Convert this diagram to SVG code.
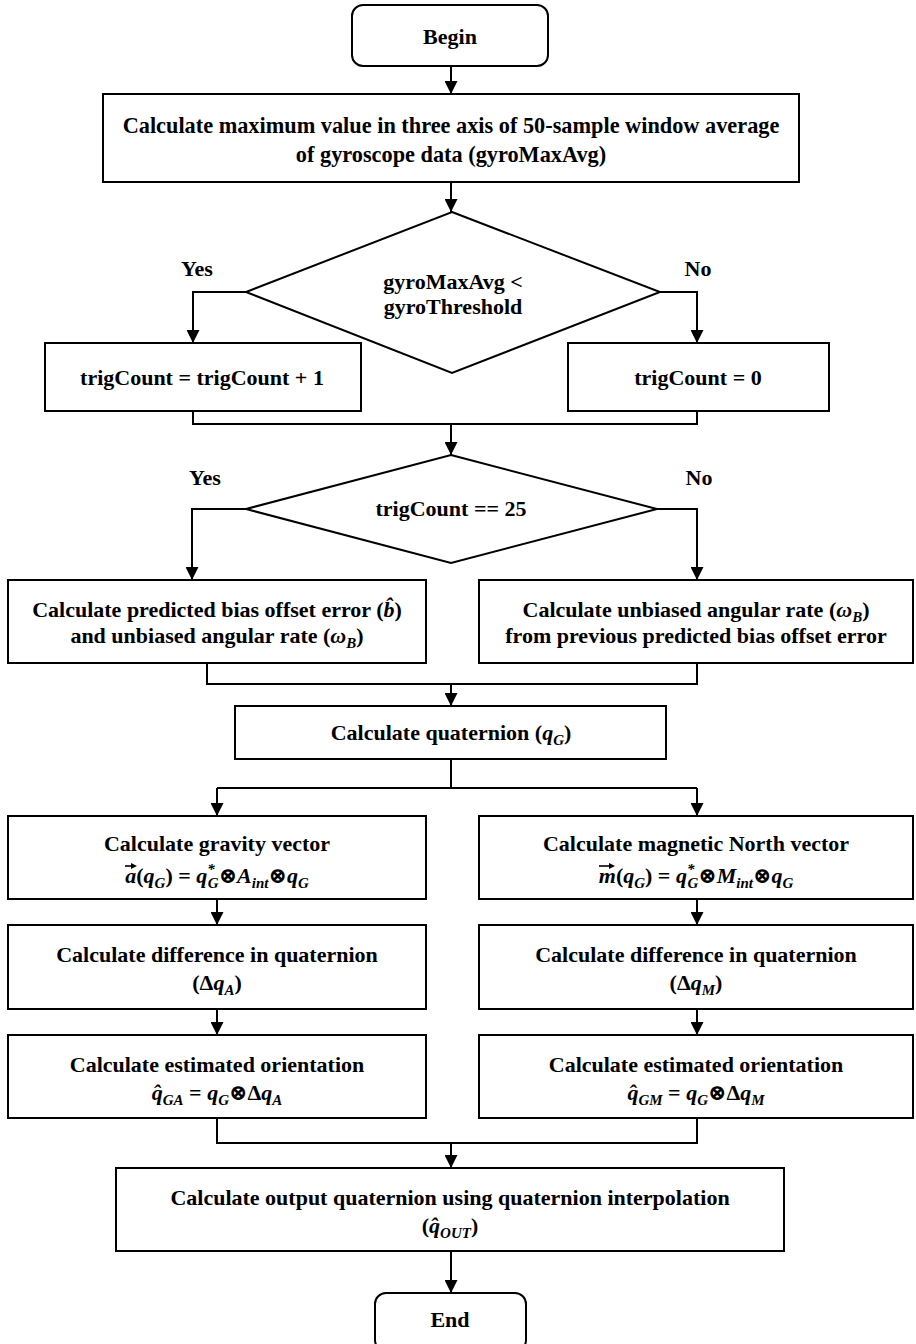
<svg xmlns="http://www.w3.org/2000/svg" width="916" height="1344" viewBox="0 0 916 1344">
<defs>
<style>
.box{fill:#fff;stroke:#000;stroke-width:2}
.ln{fill:none;stroke:#000;stroke-width:2}
.vec{fill:none;stroke:#000;stroke-width:1.6}
.t{font-family:"Liberation Serif","Times New Roman","DejaVu Serif",serif;font-weight:bold;font-size:22px;text-anchor:middle;fill:#000}
.m{font-style:italic}
.s{font-size:15px}
</style>
<marker id="ah" markerUnits="userSpaceOnUse" markerWidth="13" markerHeight="13" refX="13" refY="6.5" orient="auto">
<path d="M0,0 L13,6.5 L0,13 Z" fill="#000"/>
</marker>
</defs>
<rect width="916" height="1344" fill="#fff"/>

<g id="connectors">
<path class="ln" d="M451,66 V94" marker-end="url(#ah)"/>
<path class="ln" d="M451,182 V212" marker-end="url(#ah)"/>
<path class="ln" d="M246,292 H193 V343" marker-end="url(#ah)"/>
<path class="ln" d="M660,292 H697 V343" marker-end="url(#ah)"/>
<path class="ln" d="M193,411 V424 H697 V411"/>
<path class="ln" d="M451,424 V455" marker-end="url(#ah)"/>
<path class="ln" d="M246,509 H192 V580" marker-end="url(#ah)"/>
<path class="ln" d="M657,509 H697 V580" marker-end="url(#ah)"/>
<path class="ln" d="M207,663 V684 H697 V663"/>
<path class="ln" d="M451,684 V706" marker-end="url(#ah)"/>
<path class="ln" d="M451,759 V788"/>
<path class="ln" d="M217,788 H697"/>
<path class="ln" d="M217,788 V816" marker-end="url(#ah)"/>
<path class="ln" d="M697,788 V816" marker-end="url(#ah)"/>
<path class="ln" d="M217,899 V925" marker-end="url(#ah)"/>
<path class="ln" d="M697,899 V925" marker-end="url(#ah)"/>
<path class="ln" d="M217,1009 V1035" marker-end="url(#ah)"/>
<path class="ln" d="M697,1009 V1035" marker-end="url(#ah)"/>
<path class="ln" d="M217,1118 V1143 H697 V1118"/>
<path class="ln" d="M451,1143 V1168" marker-end="url(#ah)"/>
<path class="ln" d="M451,1251 V1293" marker-end="url(#ah)"/>
<text class="t" x="197" y="276">Yes</text>
<text class="t" x="698" y="276">No</text>
<text class="t" x="205" y="485">Yes</text>
<text class="t" x="699" y="485">No</text>
</g>

<g id="begin">
<rect class="box" x="352" y="5" width="196" height="61" rx="11"/>
<text class="t" x="450" y="44">Begin</text>
</g>

<g id="calc-max">
<rect class="box" x="103" y="94" width="696" height="88"/>
<text class="t" x="451" y="133" style="font-size:22.3px">Calculate maximum value in three axis of 50-sample window average</text>
<text class="t" x="451" y="162" style="font-size:22.3px">of gyroscope data (gyroMaxAvg)</text>
</g>

<g id="decision-gyro">
<polygon class="box" points="452,212 660,292 452,373 246,292"/>
<text class="t" x="453" y="289">gyroMaxAvg &lt;</text>
<text class="t" x="453" y="314">gyroThreshold</text>
</g>

<g id="trig-inc">
<rect class="box" x="45" y="343" width="316" height="68"/>
<text class="t" x="202" y="385">trigCount = trigCount + 1</text>
</g>

<g id="trig-zero">
<rect class="box" x="568" y="343" width="261" height="68"/>
<text class="t" x="698" y="385">trigCount = 0</text>
</g>

<g id="decision-trig">
<polygon class="box" points="451,455 657,509 451,563 246,509"/>
<text class="t" x="451" y="516">trigCount == 25</text>
</g>

<g id="predict-bias">
<rect class="box" x="8" y="580" width="418" height="83"/>
<text class="t" x="217" y="617">Calculate predicted bias offset error (<tspan class="m">b&#x302;</tspan>)</text>
<text class="t" x="217" y="643">and unbiased angular rate (<tspan class="m">ω</tspan><tspan class="m s" dy="5">B</tspan><tspan dy="-5">)</tspan></text>
</g>

<g id="unbiased-rate">
<rect class="box" x="479" y="580" width="434" height="83"/>
<text class="t" x="696" y="617">Calculate unbiased angular rate (<tspan class="m">ω</tspan><tspan class="m s" dy="5">B</tspan><tspan dy="-5">)</tspan></text>
<text class="t" x="696" y="643">from previous predicted bias offset error</text>
</g>

<g id="quaternion">
<rect class="box" x="235" y="706" width="431" height="53"/>
<text class="t" x="451" y="740">Calculate quaternion (<tspan class="m">q</tspan><tspan class="m s" dy="5">G</tspan><tspan dy="-5">)</tspan></text>
</g>

<g id="gravity">
<rect class="box" x="8" y="816" width="418" height="83"/>
<text class="t" x="217" y="851">Calculate gravity vector</text>
<text class="t" x="217" y="883"><tspan class="m">a</tspan>(<tspan class="m">q</tspan><tspan class="m s" dy="5">G</tspan><tspan dy="-5">) = </tspan><tspan class="m">q</tspan><tspan class="m s" dy="-9">*</tspan><tspan class="m s" dx="-7" dy="14">G</tspan><tspan dy="-5">⊗</tspan><tspan class="m">A</tspan><tspan class="m s" dy="5">int</tspan><tspan dy="-5">⊗</tspan><tspan class="m">q</tspan><tspan class="m s" dy="5">G</tspan></text>
<path class="vec" d="M125,866 H134"/>
<path d="M137,866 L131,863 L131,869 Z" fill="#000"/>
</g>

<g id="magnetic">
<rect class="box" x="479" y="816" width="434" height="83"/>
<text class="t" x="696" y="851">Calculate magnetic North vector</text>
<text class="t" x="696" y="883"><tspan class="m">m</tspan>(<tspan class="m">q</tspan><tspan class="m s" dy="5">G</tspan><tspan dy="-5">) = </tspan><tspan class="m">q</tspan><tspan class="m s" dy="-9">*</tspan><tspan class="m s" dx="-7" dy="14">G</tspan><tspan dy="-5">⊗</tspan><tspan class="m">M</tspan><tspan class="m s" dy="5">int</tspan><tspan dy="-5">⊗</tspan><tspan class="m">q</tspan><tspan class="m s" dy="5">G</tspan></text>
<path class="vec" d="M599,866 H612"/>
<path d="M615,866 L609,863 L609,869 Z" fill="#000"/>
</g>

<g id="diff-a">
<rect class="box" x="8" y="925" width="418" height="84"/>
<text class="t" x="217" y="962">Calculate difference in quaternion</text>
<text class="t" x="217" y="990">(Δ<tspan class="m">q</tspan><tspan class="m s" dy="5">A</tspan><tspan dy="-5">)</tspan></text>
</g>

<g id="diff-m">
<rect class="box" x="479" y="925" width="434" height="84"/>
<text class="t" x="696" y="962">Calculate difference in quaternion</text>
<text class="t" x="696" y="990">(Δ<tspan class="m">q</tspan><tspan class="m s" dy="5">M</tspan><tspan dy="-5">)</tspan></text>
</g>

<g id="est-a">
<rect class="box" x="8" y="1035" width="418" height="83"/>
<text class="t" x="217" y="1072">Calculate estimated orientation</text>
<text class="t" x="217" y="1100"><tspan class="m">q&#x302;</tspan><tspan class="m s" dy="5">GA</tspan><tspan dy="-5"> = </tspan><tspan class="m">q</tspan><tspan class="m s" dy="5">G</tspan><tspan dy="-5">⊗Δ</tspan><tspan class="m">q</tspan><tspan class="m s" dy="5">A</tspan></text>
</g>

<g id="est-m">
<rect class="box" x="479" y="1035" width="434" height="83"/>
<text class="t" x="696" y="1072">Calculate estimated orientation</text>
<text class="t" x="696" y="1100"><tspan class="m">q&#x302;</tspan><tspan class="m s" dy="5">GM</tspan><tspan dy="-5"> = </tspan><tspan class="m">q</tspan><tspan class="m s" dy="5">G</tspan><tspan dy="-5">⊗Δ</tspan><tspan class="m">q</tspan><tspan class="m s" dy="5">M</tspan></text>
</g>

<g id="output">
<rect class="box" x="116" y="1168" width="668" height="83"/>
<text class="t" x="450" y="1205">Calculate output quaternion using quaternion interpolation</text>
<text class="t" x="450" y="1233">(<tspan class="m">q&#x302;</tspan><tspan class="m s" dy="5">OUT</tspan><tspan dy="-5">)</tspan></text>
</g>

<g id="end">
<rect class="box" x="375" y="1293" width="151" height="58" rx="11"/>
<text class="t" x="450" y="1327">End</text>
</g>
</svg>
